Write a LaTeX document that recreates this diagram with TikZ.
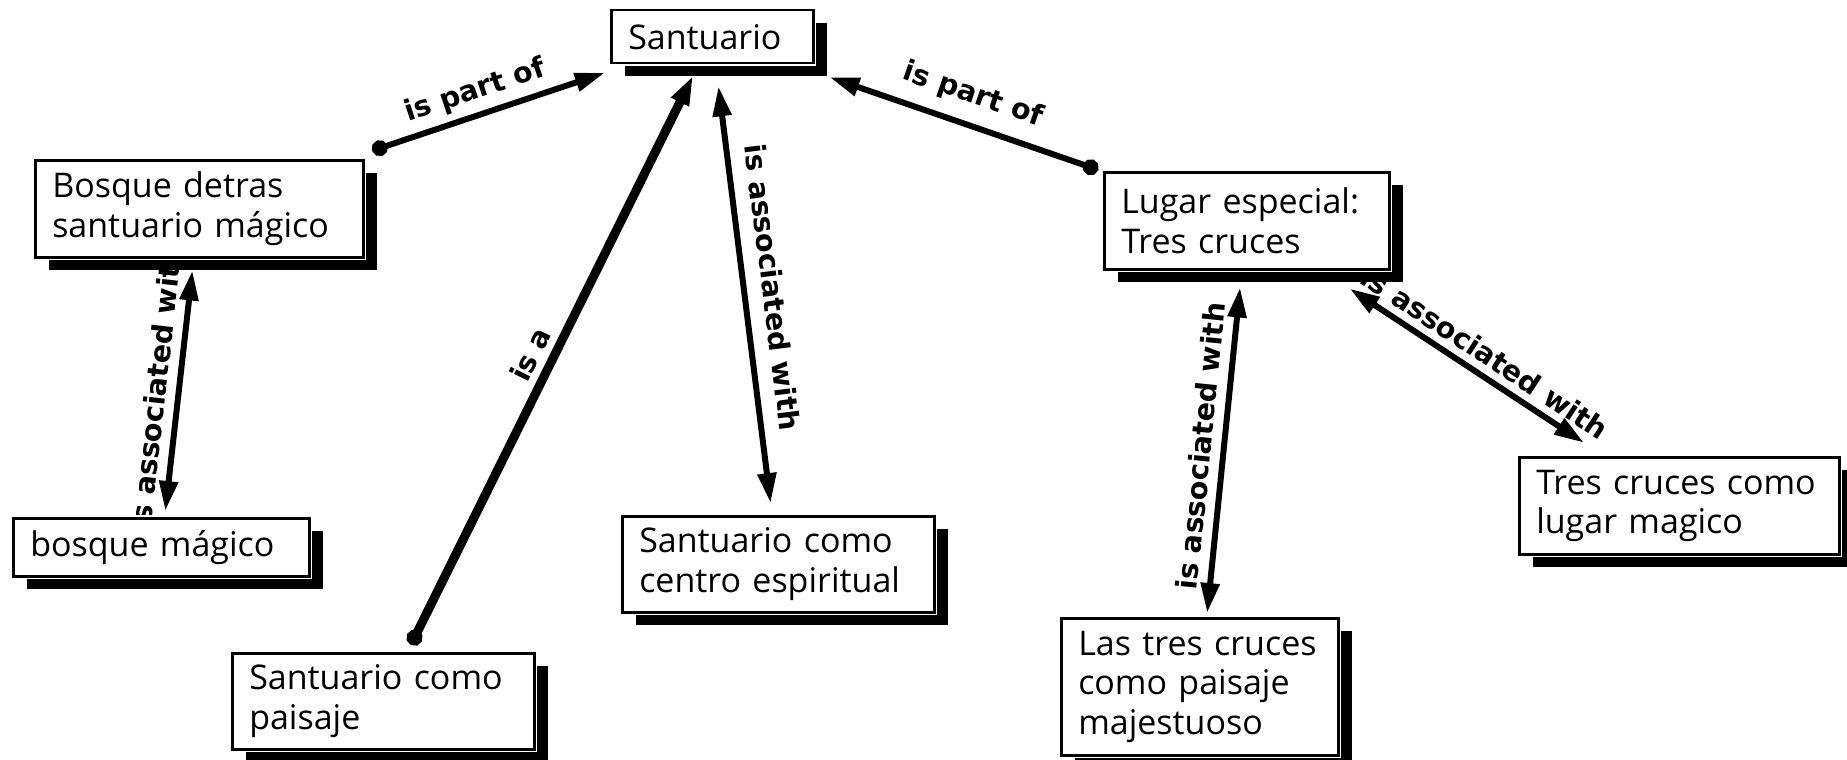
\documentclass[tikz,border=0pt]{standalone}
\usepackage{fontspec}
\setmainfont{Open Sans}
\newfontfamily\lblfont{DejaVu Sans}
\usetikzlibrary{arrows.meta,shadows}
\pgfdeclarelayer{bg}
\pgfdeclarelayer{edges}
\pgfsetlayers{bg,edges,main}
\begin{document}
\begin{tikzpicture}[x=1pt,y=-1pt,
  concept/.style={anchor=north west, draw=black, line width=2.5pt, fill=white, align=left,
    inner xsep=17pt, inner ysep=0pt, font=\fontsize{34}{39.5}\selectfont,
    drop shadow={shadow xshift=14pt, shadow yshift=-13pt, fill=black, opacity=1},
    preaction={draw=white, line width=6pt}},
  link/.style={line width=6pt, draw=black},
  thicklink/.style={line width=9pt, draw=black},
  lbl/.style={font=\lblfont\bfseries\fontsize{28.5}{28.5}\selectfont, sloped, inner sep=3pt},
  dotarrow/.style={{Circle[length=16pt]}-{Triangle[length=30pt,width=18pt]}},
  arrowdot/.style={{Triangle[length=30pt,width=18pt]}-{Circle[length=16pt]}},
  twoarrow/.style={{Triangle[length=30pt,width=18pt]}-{Triangle[length=30pt,width=18pt]}}
]
\useasboundingbox (0,0) rectangle (1847,760);
\begin{pgfonlayer}{bg}
\fill[white] (0,0) rectangle (1847,760);
\end{pgfonlayer}

\node[concept, text width=168pt, minimum height=53pt] (san) at (610,9) {Santuario};
\node[concept, text width=294pt, minimum height=97pt] (bos) at (34,159) {Bosque detras\\santuario mágico};
\node[concept, text width=262pt, minimum height=58pt] (bmag) at (12,517) {bosque mágico};
\node[concept, text width=268pt, minimum height=96pt] (pai) at (231,652) {Santuario como\\paisaje};
\node[concept, text width=278pt, minimum height=96pt] (cen) at (621,515) {Santuario como\\centro espiritual};
\node[concept, text width=251pt, minimum height=97pt] (lug) at (1103,171) {Lugar especial:\\Tres cruces};
\node[concept, text width=243pt, minimum height=137pt] (maj) at (1060,617) {Las tres cruces\\como paisaje\\majestuoso};
\node[concept, text width=286pt, minimum height=97pt] (mag) at (1518,456) {Tres cruces como\\lugar magico};

\begin{pgfonlayer}{edges}
\draw[link, dotarrow, shorten <=26pt, shorten >=26pt] (bos) -- node[lbl, pos=0.48, above=4pt]{is part of} (san);
\draw[thicklink, dotarrow, shorten <=8pt, shorten >=12pt] (pai) -- node[lbl, pos=0.49, above=4pt]{is a} (san);
\draw[link, twoarrow, shorten <=22pt, shorten >=12pt] (san) -- node[lbl, pos=0.503, above=12pt]{is associated with} (cen);
\draw[link, arrowdot, shorten <=39pt, shorten >=5pt] (san) -- node[lbl, pos=0.55, above=10pt]{is part of} (lug);
\draw[link, twoarrow, shorten <=6pt, shorten >=12pt] (bmag) -- node[lbl, pos=0.49, above=6pt]{is associated with} (bos);
\draw[link, twoarrow, shorten <=4pt, shorten >=17pt] (maj) -- node[lbl, pos=0.487, above=6pt]{is associated with} (lug);
\draw[link, twoarrow, shorten <=33pt, shorten >=24pt] (lug) -- node[lbl, pos=0.537, above=4pt]{is associated with} (mag);
\end{pgfonlayer}
\end{tikzpicture}
\end{document}
